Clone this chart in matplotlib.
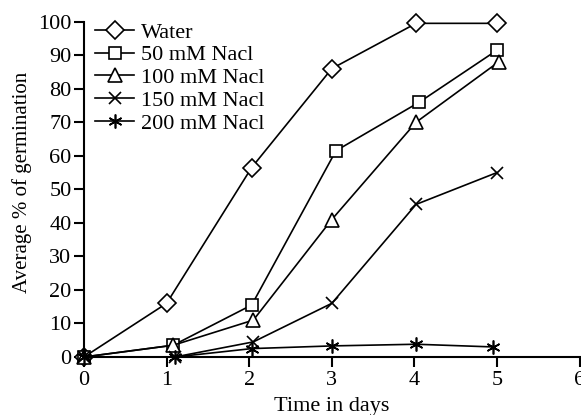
import matplotlib.pyplot as plt

plt.rcParams['font.family'] = ['Liberation Serif', 'DejaVu Serif']

days_water = [0, 1.0, 2.03, 3.0, 4.02, 5.0]
water = [0, 16, 56.5, 86, 99.5, 99.5]

days_50 = [0, 1.08, 2.03, 3.05, 4.06, 5.0]
nacl_50 = [0, 3.5, 15.5, 61.5, 76, 91.5]

days_100 = [0, 1.08, 2.05, 3.0, 4.02, 5.02]
nacl_100 = [0, 3.5, 11, 41, 70, 88]

days_150 = [0, 1.1, 2.05, 3.0, 4.02, 5.0]
nacl_150 = [0, 0, 4.5, 16, 45.5, 55]

days_200 = [0, 1.1, 2.03, 3.0, 4.02, 4.95]
nacl_200 = [0, 0, 2.5, 3.3, 3.8, 3]

labels = ["Water", "50 mM Nacl", "100 mM Nacl", "150 mM Nacl", "200 mM Nacl"]

fig = plt.figure(figsize=(5.81, 4.15), dpi=100)
ax = fig.add_axes([0.1446, 0.1398, 0.853, 0.808])

style = dict(color="black", linewidth=1.2, markerfacecolor="white",
             markeredgecolor="black", markeredgewidth=1.2, clip_on=False)
ax.plot(days_water, water, marker="D", markersize=9, label=labels[0], **style)
ax.plot(days_50, nacl_50, marker="s", markersize=9, label=labels[1], **style)
ax.plot(days_100, nacl_100, marker="^", markersize=10, label=labels[2], **style)
ax.plot(days_150, nacl_150, marker="x", markersize=9, label=labels[3], **style)
ax.plot(days_200, nacl_200, marker=(6, 2, 0), markersize=10, label=labels[4], **style)

ax.set_xlim(0, 6)
ax.set_ylim(0, 100)
ax.set_xticks(range(0, 7))
ax.set_yticks(range(0, 101, 10))
ax.spines["top"].set_visible(False)
ax.spines["right"].set_visible(False)
ax.spines["left"].set_linewidth(1.5)
ax.spines["bottom"].set_linewidth(1.5)
ax.tick_params(direction="out", length=7, width=1.5, labelsize=16, pad=2)
ax.tick_params(axis="x", pad=3)
ax.set_xlabel("Time in days", fontsize=16, labelpad=5)
ax.set_ylabel("Average % of germination", fontsize=15)
ax.yaxis.set_label_coords(-0.105, 0.52)

ax.legend(loc="upper left", bbox_to_anchor=(0.0, 1.032), frameon=False,
          fontsize=16, handlelength=1.75, handletextpad=0.3,
          labelspacing=0.1, borderaxespad=0.0, borderpad=0.5)

fig.savefig("out.png", dpi=100)
